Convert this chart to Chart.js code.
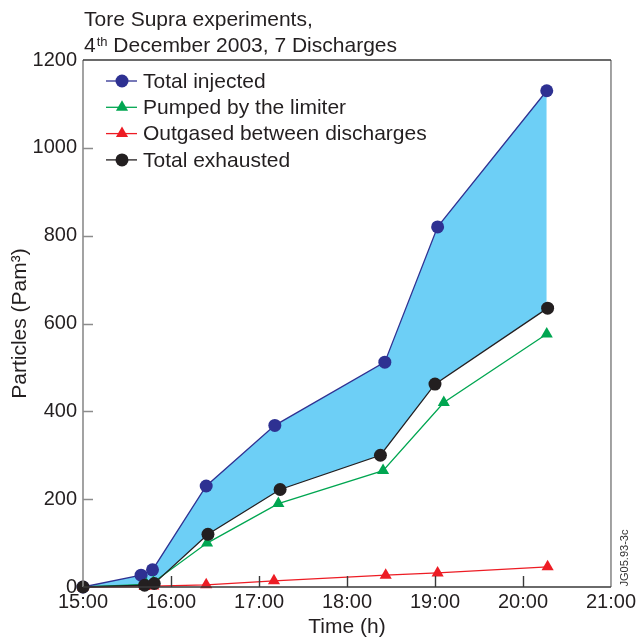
<!DOCTYPE html>
<html>
<head>
<meta charset="utf-8">
<script src="https://cdn.jsdelivr.net/npm/chart.js@4.4.1/dist/chart.umd.min.js"></script>
<style>
html, body { margin: 0; padding: 0; background: #fff; }
</style>
</head>
<body>
<canvas id="chart" width="639" height="641"></canvas>
<script>
var FONT = '"Liberation Sans", Arial, Helvetica, sans-serif';

// time in decimal hours, values in Pam3
var injectedTime = [15.0, 15.66, 15.79, 16.40, 17.18, 18.43, 19.03, 20.27];
var injectedVal  = [0, 27, 39, 230, 368, 512, 820, 1130];
var limiterTime  = [15.0, 15.72, 15.80, 16.41, 17.22, 18.41, 19.10, 20.27];
var limiterVal   = [0, 6, 11, 100, 190, 265, 420, 576];
var outgasTime   = [15.0, 15.70, 15.80, 16.40, 17.17, 18.44, 19.03, 20.28];
var outgasVal    = [0, 1, 2, 5, 14, 27, 32, 46];
var exhaustTime  = [15.0, 15.70, 15.81, 16.42, 17.24, 18.38, 19.00, 20.28];
var exhaustVal   = [0, 4, 8, 120, 222, 300, 462, 635];

var seriesNames = ['Total injected', 'Pumped by the limiter', 'Outgased between discharges', 'Total exhausted'];
var xTicks = [15, 16, 17, 18, 19, 20, 21];
var yTicks = [0, 200, 400, 600, 800, 1000, 1200];

function pts(t, v) {
  var out = [];
  for (var i = 0; i < t.length; i++) out.push({x: t[i], y: v[i]});
  return out;
}

function series(label, t, v, color, style, order) {
  return {
    label: label,
    data: pts(t, v),
    borderColor: color,
    backgroundColor: color,
    pointBackgroundColor: color,
    pointBorderColor: color,
    pointStyle: style,
    pointRadius: style == 'triangle' ? 7 : 6.5,
    borderWidth: 1.3,
    pointBorderWidth: 0,
    fill: false,
    clip: false,
    order: order
  };
}

var dsInjected = series(seriesNames[0], injectedTime, injectedVal, '#2e3192', 'circle', 3);
dsInjected.fill = {target: 3};
dsInjected.backgroundColor = '#6dcff6';
var dsLimiter = series(seriesNames[1], limiterTime, limiterVal, '#00a651', 'triangle', 2);
var dsOutgas = series(seriesNames[2], outgasTime, outgasVal, '#ed1c24', 'triangle', 1);
var dsExhaust = series(seriesNames[3], exhaustTime, exhaustVal, '#231f20', 'circle', 0);

var decor = {
  id: 'decor',
  afterDraw: function(chart) {
    var ctx = chart.ctx, a = chart.chartArea;
    var xs = chart.scales.x, ys = chart.scales.y;
    ctx.save();
    // frame
    ctx.lineWidth = 1.6;
    ctx.strokeStyle = '#8c8c8c';
    ctx.beginPath();
    ctx.moveTo(a.left, a.top); ctx.lineTo(a.left, a.bottom);
    ctx.moveTo(a.right, a.top); ctx.lineTo(a.right, a.bottom);
    ctx.stroke();
    ctx.strokeStyle = '#3a3a3a';
    ctx.beginPath();
    ctx.moveTo(a.left, a.top); ctx.lineTo(a.right, a.top);
    ctx.moveTo(a.left, a.bottom); ctx.lineTo(a.right, a.bottom);
    ctx.stroke();
    // inside ticks
    ctx.lineWidth = 1.4;
    ctx.strokeStyle = '#8c8c8c';
    ctx.beginPath();
    ys.ticks.forEach(function(t) {
      if (t.value <= 0 || t.value >= 1200) return;
      var y = Math.round(ys.getPixelForValue(t.value)) + 0.5;
      ctx.moveTo(a.left, y); ctx.lineTo(a.left + 10, y);
    });
    ctx.stroke();
    ctx.strokeStyle = '#3a3a3a';
    ctx.beginPath();
    xs.ticks.forEach(function(t) {
      if (t.value <= 15 || t.value >= 21) return;
      var x = Math.round(xs.getPixelForValue(t.value)) + 0.5;
      ctx.moveTo(x, a.bottom); ctx.lineTo(x, a.bottom - 11);
    });
    ctx.stroke();

    // title
    ctx.fillStyle = '#231f20';
    ctx.textAlign = 'left';
    ctx.textBaseline = 'alphabetic';
    ctx.font = '21px ' + FONT;
    ctx.fillText('Tore Supra experiments,', 84, 26);
    ctx.fillText('4', 84, 52);
    var w4 = ctx.measureText('4').width;
    ctx.font = '13px ' + FONT;
    ctx.fillText('th', 84 + w4 + 1, 46);
    var wth = ctx.measureText('th').width;
    ctx.font = '21px ' + FONT;
    ctx.fillText(' December 2003, 7 Discharges', 84 + w4 + 1 + wth, 52);

    // legend
    chart.data.datasets.forEach(function(ds, i) {
      var y = 81 + i * 26.3;
      ctx.strokeStyle = ds.borderColor;
      ctx.lineWidth = 1.3;
      ctx.beginPath();
      ctx.moveTo(106, y); ctx.lineTo(137, y);
      ctx.stroke();
      ctx.fillStyle = ds.pointBackgroundColor;
      Chart.helpers.drawPoint(ctx, {pointStyle: ds.pointStyle, radius: ds.pointRadius, borderWidth: 0, rotation: 0}, 122, y);
      ctx.fillStyle = '#231f20';
      ctx.font = '21px ' + FONT;
      ctx.textBaseline = 'middle';
      ctx.fillText(ds.label, 143, y + 1);
    });

    // side code
    ctx.save();
    ctx.translate(625, 558);
    ctx.rotate(-Math.PI / 2);
    ctx.font = '11px ' + FONT;
    ctx.fillStyle = '#333';
    ctx.textAlign = 'center';
    ctx.textBaseline = 'middle';
    ctx.fillText('JG05.93-3c', 0, 0);
    ctx.restore();
    ctx.restore();
  }
};

new Chart(document.getElementById('chart'), {
  type: 'line',
  data: { datasets: [dsInjected, dsLimiter, dsOutgas, dsExhaust] },
  options: {
    responsive: false,
    animation: false,
    devicePixelRatio: 1,
    layout: { padding: { top: 60, right: 28, left: 0, bottom: 0 } },
    plugins: {
      legend: { display: false },
      tooltip: { enabled: false },
      filler: { drawTime: 'beforeDatasetsDraw' }
    },
    elements: { line: { tension: 0 } },
    scales: {
      x: {
        type: 'linear',
        min: 15, max: 21,
        afterBuildTicks: function(s) { s.ticks = xTicks.map(function(v) { return {value: v}; }); },
        afterFit: function(s) { s.height = 54; },
        ticks: {
          font: { family: FONT, size: 20 },
          color: '#231f20',
          padding: 3,
          maxRotation: 0,
          callback: function(v) { return v + ':00'; }
        },
        grid: { display: false, drawTicks: false },
        border: { display: false },
        title: { display: true, text: 'Time (h)', font: { family: FONT, size: 21 }, color: '#231f20', padding: { top: 0, bottom: 1 } }
      },
      y: {
        min: 0, max: 1200,
        afterBuildTicks: function(s) { s.ticks = yTicks.map(function(v) { return {value: v}; }); },
        afterFit: function(s) { s.width = 83; },
        ticks: {
          font: { family: FONT, size: 20 },
          color: '#231f20',
          padding: 6,
          callback: function(v) { return String(v); }
        },
        grid: { display: false, drawTicks: false },
        border: { display: false },
        title: { display: true, text: 'Particles (Pam\u00b3)', font: { family: FONT, size: 21 }, color: '#231f20', padding: { top: 8, bottom: 0 } }
      }
    }
  },
  plugins: [decor]
});
</script>
</body>
</html>
